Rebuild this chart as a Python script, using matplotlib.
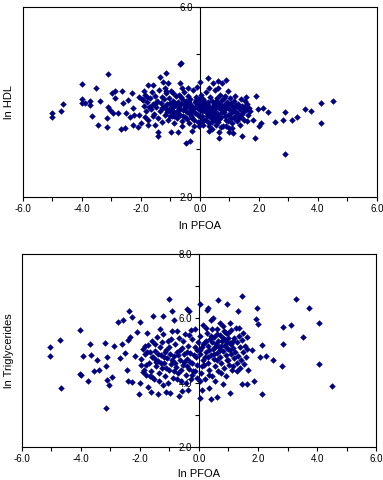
"""
ln HDL and ln triglycerides against ln PFOA, two stacked scatter panels.
Writes out.png.
"""
import matplotlib
matplotlib.use("Agg")
import matplotlib.pyplot as plt

plt.rcParams["font.family"] = ["Liberation Sans", "DejaVu Sans"]

NAVY = "#000080"

# ---- panel 1: ln PFOA vs ln HDL ----
hdl_x = [
    # sparse points
    -5.01, -5.01, -4.71, -4.64, -4.01, -4.01, -4.01, -3.90, -3.74, -3.72,
    -3.65, -3.51, -3.45, -3.38, -3.11, -3.14, -3.16, -3.11, -3.06, -2.97,
    -2.88, -2.88, -2.95, -2.78, -2.69, -2.64, -2.61, -2.55, -2.52, -2.43,
    -2.36, -2.29, -2.27, -2.27, -2.25, -2.10, -2.05, -2.05, -1.99, -1.93,
    -1.88, -1.85, -1.76, -1.76, -1.71, -1.59, -1.59, -1.54, -1.42, -1.42,
    -1.37, -1.25, -1.16, -1.14, -1.08, -0.97, -0.92, -0.69, -0.63, -0.69,
    -0.75, -0.46, -0.35, -0.26, -0.01, 0.27, 0.44, 0.61, 0.76, 0.89,
    0.31, 0.64, 0.66, 0.99, 1.12, 1.43, 1.57, 1.89, 1.86, 1.97,
    2.14, 2.02, 2.08, 2.31, 2.53, 2.81, 2.88, 2.88, 3.13, 3.30,
    3.55, 3.75, 4.09, 4.09, 4.51, 1.80,
    # core, left
    -1.95, -1.90, -1.85, -1.82, -1.78, -1.75, -1.70, -1.66, -1.62, -1.60,
    -1.55, -1.52, -1.48, -1.45, -1.42, -1.40, -1.36, -1.33, -1.30, -1.27,
    -1.25, -1.22, -1.19, -1.16, -1.14, -1.10, -1.08, -1.05, -1.02, -1.00,
    -0.98, -0.95, -0.92, -0.90, -0.87, -0.85, -0.82, -0.80, -0.78, -0.75,
    -0.72, -0.70, -0.68, -0.65, -0.62, -0.60, -0.58, -0.55, -0.52, -0.50,
    -0.48, -0.45, -0.42, -0.40, -0.38, -0.35, -0.32, -0.30, -0.28, -0.25,
    -0.22, -0.20, -0.18, -0.15, -0.12, -0.10, -0.08, -0.05, -0.03, 0.00,
    # core, right
    0.02, 0.05, 0.08, 0.10, 0.12, 0.15, 0.18, 0.20, 0.22, 0.25,
    0.28, 0.30, 0.32, 0.35, 0.38, 0.40, 0.42, 0.45, 0.48, 0.50,
    0.52, 0.55, 0.58, 0.60, 0.62, 0.65, 0.68, 0.70, 0.72, 0.75,
    0.78, 0.80, 0.82, 0.85, 0.88, 0.90, 0.92, 0.95, 0.98, 1.00,
    1.02, 1.05, 1.08, 1.10, 1.12, 1.15, 1.18, 1.20, 1.25, 1.28,
    1.30, 1.35, 1.38, 1.40, 1.45, 1.48, 1.50, 1.55, 1.58, 1.62,
    1.65, 1.70,
    # core, second pass
    -1.18, -1.12, -1.06, -0.96, -0.94, -0.88, -0.84, -0.76, -0.74, -0.66,
    -0.64, -0.56, -0.54, -0.46, -0.44, -0.36, -0.34, -0.26, -0.24, -0.16,
    -0.14, -0.06, -0.04, 0.04, 0.06, 0.14, 0.16, 0.24, 0.26, 0.34,
    0.36, 0.44, 0.46, 0.54, 0.56, 0.64, 0.66, 0.74, 0.76, 0.84,
    0.86, 0.94, 0.96, 1.04, 1.06, 1.14, 1.16, 1.22, 1.24, 1.32,
    1.34, 1.42, 1.44, 0.10, 0.32, 0.55, 0.70, 0.88, -0.02, 0.20,
    0.40, 0.62, 0.80, 0.50, 0.28, 0.08, -0.10, -0.30, -0.50, -0.70,
    -0.90, -1.00, -1.30, -1.50, -1.70, -1.80, 0.95, 0.30, 0.60, -0.40,
    -0.60, -1.20, -0.10, 1.20, 1.52, 1.60, 1.35, 1.10, 0.40, -0.20,
    -0.60,
]
hdl_y = [
    3.77, 3.67, 3.81, 3.96, 4.37, 4.05, 3.97, 3.98, 4.02, 3.93,
    3.70, 4.30, 3.51, 4.02, 4.58, 3.46, 3.65, 3.90, 3.83, 4.19,
    4.23, 4.07, 3.76, 3.76, 3.43, 4.23, 3.97, 3.44, 3.77, 4.04,
    3.67, 4.19, 3.86, 3.51, 3.72, 3.46, 4.10, 3.72, 3.55, 4.04,
    4.23, 3.68, 4.35, 3.51, 3.90, 4.35, 3.69, 3.51, 3.37, 3.27,
    4.53, 4.42, 4.61, 4.23, 4.39, 3.37, 4.18, 4.79, 4.81, 4.39,
    3.37, 3.13, 3.18, 3.39, 4.42, 4.49, 4.39, 4.44, 4.39, 4.46,
    3.39, 3.23, 3.37, 3.37, 3.34, 3.27, 4.11, 4.13, 3.23, 3.84,
    3.86, 3.48, 3.56, 3.79, 3.58, 3.62, 3.79, 2.90, 3.62, 3.67,
    3.84, 3.81, 3.97, 3.56, 4.02, 3.62,
    4.05, 3.92, 4.15, 3.80, 4.00, 3.62, 4.08, 3.85, 4.20, 3.95,
    3.74, 4.12, 3.88, 4.02, 3.65, 4.25, 3.80, 3.97, 4.10, 3.58,
    3.90, 4.05, 3.72, 3.85, 4.18, 3.95, 3.62, 4.08, 3.80, 3.98,
    4.22, 3.70, 3.88, 4.02, 3.55, 3.93, 4.12, 3.78, 3.66, 4.00,
    3.85, 4.15, 3.72, 3.95, 3.60, 4.06, 3.82, 4.20, 3.90, 3.68,
    4.02, 3.78, 3.95, 4.12, 3.55, 3.86, 4.05, 3.70, 3.92, 4.25,
    3.80, 3.62, 4.00, 3.88, 4.10, 3.75, 3.95, 3.58, 4.05, 3.82,
    3.98, 4.15, 3.70, 3.88, 4.05, 3.62, 3.95, 3.78, 4.20, 3.85,
    4.00, 3.55, 3.92, 4.10, 3.72, 3.84, 4.02, 3.65, 3.96, 4.25,
    3.80, 3.90, 4.08, 3.58, 3.75, 3.98, 4.15, 3.68, 3.85, 4.04,
    3.50, 3.78, 3.94, 4.12, 3.62, 3.88, 4.00, 3.72, 3.45, 3.84,
    4.08, 3.66, 3.92, 3.55, 3.80, 4.02, 3.70, 3.88, 3.60, 3.96,
    3.75, 3.85, 3.68, 4.05, 3.78, 3.90, 3.62, 3.82, 3.95, 3.72,
    3.86, 3.80,
    3.92, 3.78, 3.85, 3.92, 3.82, 3.70, 3.98, 3.90, 3.76, 3.84,
    4.10, 3.70, 3.96, 3.88, 3.64, 3.98, 3.74, 3.66, 3.84, 3.76,
    4.04, 3.86, 3.70, 3.60, 3.90, 3.82, 4.00, 3.70, 3.92, 3.80,
    3.66, 3.90, 3.76, 3.70, 4.02, 3.86, 3.64, 3.92, 3.78, 3.70,
    3.84, 3.96, 3.60, 3.76, 3.98, 3.66, 3.90, 3.78, 3.94, 3.86,
    3.66, 3.74, 3.92, 3.52, 3.48, 3.52, 3.46, 3.50, 3.48, 3.62,
    3.58, 3.92, 4.08, 3.62, 3.76, 3.80, 3.92, 3.82, 3.82, 3.94,
    3.78, 3.70, 3.86, 3.98, 3.90, 4.10, 4.22, 4.30, 4.28, 4.28,
    4.30, 4.30, 4.32, 4.12, 4.02, 3.60, 3.52, 3.45, 3.42, 3.50,
    3.48,
]

# ---- panel 2: ln PFOA vs ln triglycerides ----
tg_x = [
    # sparse points
    -5.03, -5.03, -4.71, -4.67, -4.03, -4.03, -4.01, -3.92, -3.77, -3.69,
    -3.67, -3.55, -3.47, -3.38, -3.19, -3.11, -3.15, -3.10, -3.04, -2.96,
    -2.88, -3.15, -2.73, -2.68, -2.62, -2.59, -2.51, -2.45, -2.42, -2.36,
    -2.32, -2.28, -2.40, -2.28, -2.17, -2.11, -2.02, -2.00, -2.00, -1.98,
    -1.55, -1.32, -1.23, -1.01, -0.93, -0.68, -0.42, 0.03, 0.03, 0.40,
    0.62, 0.65, 0.94, 1.05, 1.33, 1.45, 1.93, 2.01, 2.07, 2.12,
    2.12, 1.86, 1.62, 1.45, 1.79, 1.62, 2.27, 2.52, 2.80, 2.86,
    2.86, 3.29, 3.12, 3.54, 3.74, 4.06, 4.08, 4.50, 1.98, 0.80,
    0.34, 0.09, -0.36, -0.59, -1.21, -1.10, -0.98, -1.38, -1.64, -1.72,
    -1.60, -1.89, -1.83, -1.77, -1.46, -0.85, -0.33, -0.28, 0.28, 0.32,
    0.46,
    # core, left
    -1.95, -1.90, -1.86, -1.82, -1.78, -1.74, -1.70, -1.66, -1.62, -1.58,
    -1.55, -1.52, -1.48, -1.45, -1.42, -1.38, -1.35, -1.32, -1.28, -1.25,
    -1.22, -1.18, -1.15, -1.12, -1.08, -1.05, -1.02, -0.98, -0.95, -0.92,
    -0.88, -0.85, -0.82, -0.78, -0.75, -0.72, -0.68, -0.65, -0.62, -0.58,
    -0.55, -0.52, -0.48, -0.45, -0.42, -0.38, -0.35, -0.32, -0.28, -0.25,
    -0.22, -0.18, -0.15, -0.12, -0.08, -0.05, -0.02,
    -1.80, -1.60, -1.40, -1.30, -1.20, -1.10, -1.00, -0.90, -0.80, -0.70,
    -0.60, -0.50, -0.40, -0.30, -0.20, -0.10, -1.50, -1.25, -0.95, -0.75,
    -0.55, -0.35, -0.15, -1.65, -1.35, -1.05, -0.75, -0.45, -0.25, -0.05,
    -1.15, -0.65, -0.85, -0.40, -1.45, -1.75,
    # core, right
    0.02, 0.05, 0.08, 0.10, 0.12, 0.15, 0.18, 0.20, 0.22, 0.25,
    0.28, 0.30, 0.32, 0.35, 0.38, 0.40, 0.42, 0.45, 0.48, 0.50,
    0.52, 0.55, 0.58, 0.60, 0.62, 0.65, 0.68, 0.70, 0.72, 0.75,
    0.78, 0.80, 0.82, 0.85, 0.88, 0.90, 0.92, 0.95, 0.98, 1.00,
    1.02, 1.05, 1.08, 1.10, 1.12, 1.15, 1.18, 1.20, 1.22, 1.25,
    1.28, 1.30, 1.32, 1.35, 1.38, 1.40, 1.42, 1.45, 1.48, 1.50,
    1.52, 1.55, 1.58, 1.62, 1.65,
    0.05, 0.15, 0.25, 0.35, 0.45, 0.55, 0.65, 0.75, 0.85, 0.95,
    1.05, 1.15, 0.30, 0.50, 0.70, 0.90, 1.10, 0.40, 0.60, 0.80,
    1.00, 0.20, 0.60, 1.00, 0.10, 0.35, 0.75, 1.15, 0.55, 0.90,
    1.30, 0.05, 0.25, 0.70, 1.05, 1.35, 0.85, 0.45,
]
tg_y = [
    5.10, 4.83, 5.31, 3.83, 5.64, 4.27, 4.23, 4.83, 4.06, 5.20,
    4.86, 4.37, 4.70, 4.39, 5.24, 4.79, 3.20, 4.08, 3.93, 4.18,
    5.14, 4.52, 5.87, 4.76, 5.20, 5.93, 4.91, 4.39, 5.31, 6.23,
    5.43, 6.05, 4.05, 4.03, 4.83, 5.56, 3.63, 5.87, 3.98, 4.55,
    6.08, 5.66, 6.07, 6.60, 6.21, 3.59, 6.28, 6.45, 3.51, 3.49,
    3.56, 6.58, 6.43, 3.69, 6.24, 6.70, 5.98, 5.82, 4.79, 5.17,
    3.64, 4.06, 3.96, 3.96, 5.02, 5.41, 4.83, 4.70, 4.52, 5.72,
    5.20, 6.60, 5.80, 5.41, 6.32, 4.57, 5.85, 3.89, 6.32, 3.96,
    3.82, 3.77, 3.77, 3.74, 3.93, 3.72, 3.67, 3.63, 3.72, 3.87,
    4.18, 4.34, 5.14, 5.54, 4.70, 5.95, 6.21, 5.64, 6.26, 6.31,
    6.00,
    4.72, 5.05, 4.40, 4.88, 4.25, 5.18, 4.60, 4.95, 4.35, 5.30,
    4.78, 4.10, 4.98, 4.52, 5.42, 4.68, 4.30, 5.12, 4.85, 4.45,
    5.50, 4.62, 4.20, 5.02, 4.75, 5.28, 4.40, 4.90, 4.58, 5.60,
    4.15, 4.82, 5.20, 4.48, 4.95, 4.30, 5.40, 4.70, 4.05, 5.08,
    4.55, 4.88, 5.52, 4.25, 4.72, 5.15, 4.42, 4.92, 4.12, 5.35,
    4.62, 4.85, 5.65, 4.35, 5.02, 4.55, 5.25,
    4.55, 4.80, 4.90, 4.60, 4.80, 4.45, 5.10, 4.70, 4.60, 4.85,
    4.40, 4.65, 4.95, 4.65, 4.35, 4.80, 5.20, 5.25, 5.35, 5.60,
    5.30, 5.48, 5.10, 4.20, 4.05, 4.00, 4.10, 4.00, 4.22, 4.15,
    4.95, 5.00, 4.35, 4.50, 4.65, 4.95,
    4.90, 5.45, 4.30, 5.10, 4.70, 5.80, 4.55, 5.25, 4.10, 4.95,
    5.55, 4.62, 5.15, 4.40, 5.35, 4.85, 5.95, 4.20, 5.05, 4.72,
    5.42, 4.50, 5.20, 4.92, 5.65, 4.35, 5.12, 4.80, 5.48, 4.60,
    5.30, 4.98, 5.75, 4.45, 5.18, 4.85, 5.55, 4.70, 5.05, 5.38,
    4.55, 5.22, 4.90, 5.62, 4.38, 5.08, 4.75, 5.40, 4.95, 5.70,
    4.60, 5.25, 4.82, 5.45, 4.45, 5.10, 4.70, 5.32, 4.95, 5.55,
    4.58, 5.15, 4.80, 5.05, 4.40,
    5.00, 5.20, 5.30, 5.00, 5.25, 5.10, 5.30, 5.15, 5.35, 5.25,
    5.00, 5.30, 4.80, 4.90, 5.00, 5.10, 5.20, 5.45, 5.50, 5.40,
    5.55, 4.80, 4.70, 4.70, 4.50, 4.25, 4.30, 4.50, 4.05, 4.20,
    4.35, 4.05, 5.70, 5.85, 5.85, 5.70, 5.60, 5.65,
]

X_LIM = (-6, 6)
X_TICKS = list(range(-6, 7))
HDL_LIM = (2, 6)
HDL_TICKS = [2, 3, 4, 5, 6]
TG_LIM = (2, 8)
TG_TICKS = [2, 3, 4, 5, 6, 7, 8]


def every_other(ticks):
    # labels on even values only, blank in between
    return ["%.1f" % t if t % 2 == 0 else "" for t in ticks]


def panel(ax, x, y, ylim, yticks, ylabel, ylab_x):
    # move the y axis to x = 0 first: this resets the tick objects
    ax.spines["left"].set_position(("data", 0))
    ax.scatter(x, y, s=11, marker="D", color=NAVY, linewidths=0, zorder=3)
    ax.set_xlim(*X_LIM)
    ax.set_ylim(*ylim)
    ax.set_xticks(X_TICKS)
    ax.set_xticklabels(every_other(X_TICKS))
    ax.set_yticks(yticks)
    ax.set_yticklabels(every_other(yticks))
    for sp in ax.spines.values():
        sp.set_linewidth(0.8)
    ax.axvline(X_LIM[0], color="k", lw=0.8, clip_on=False)
    ax.tick_params(direction="out", length=3, width=0.8, pad=2, labelsize=7)
    ax.set_ylabel(ylabel, fontsize=8)
    ax.yaxis.set_label_coords(ylab_x, 0.5)
    ax.set_xlabel("ln PFOA", fontsize=8)


fig = plt.figure(figsize=(3.83, 4.80), dpi=100)
ax1 = fig.add_axes([0.060, 0.590, 0.924, 0.396])
ax2 = fig.add_axes([0.057, 0.069, 0.925, 0.402])

panel(ax1, hdl_x, hdl_y, HDL_LIM, HDL_TICKS, "ln HDL", -0.024)
ax1.xaxis.set_label_coords(0.5, -0.125)
panel(ax2, tg_x, tg_y, TG_LIM, TG_TICKS, "ln Triglycerides", -0.022)
ax2.xaxis.set_label_coords(0.5, -0.115)

fig.savefig("out.png", dpi=100)
